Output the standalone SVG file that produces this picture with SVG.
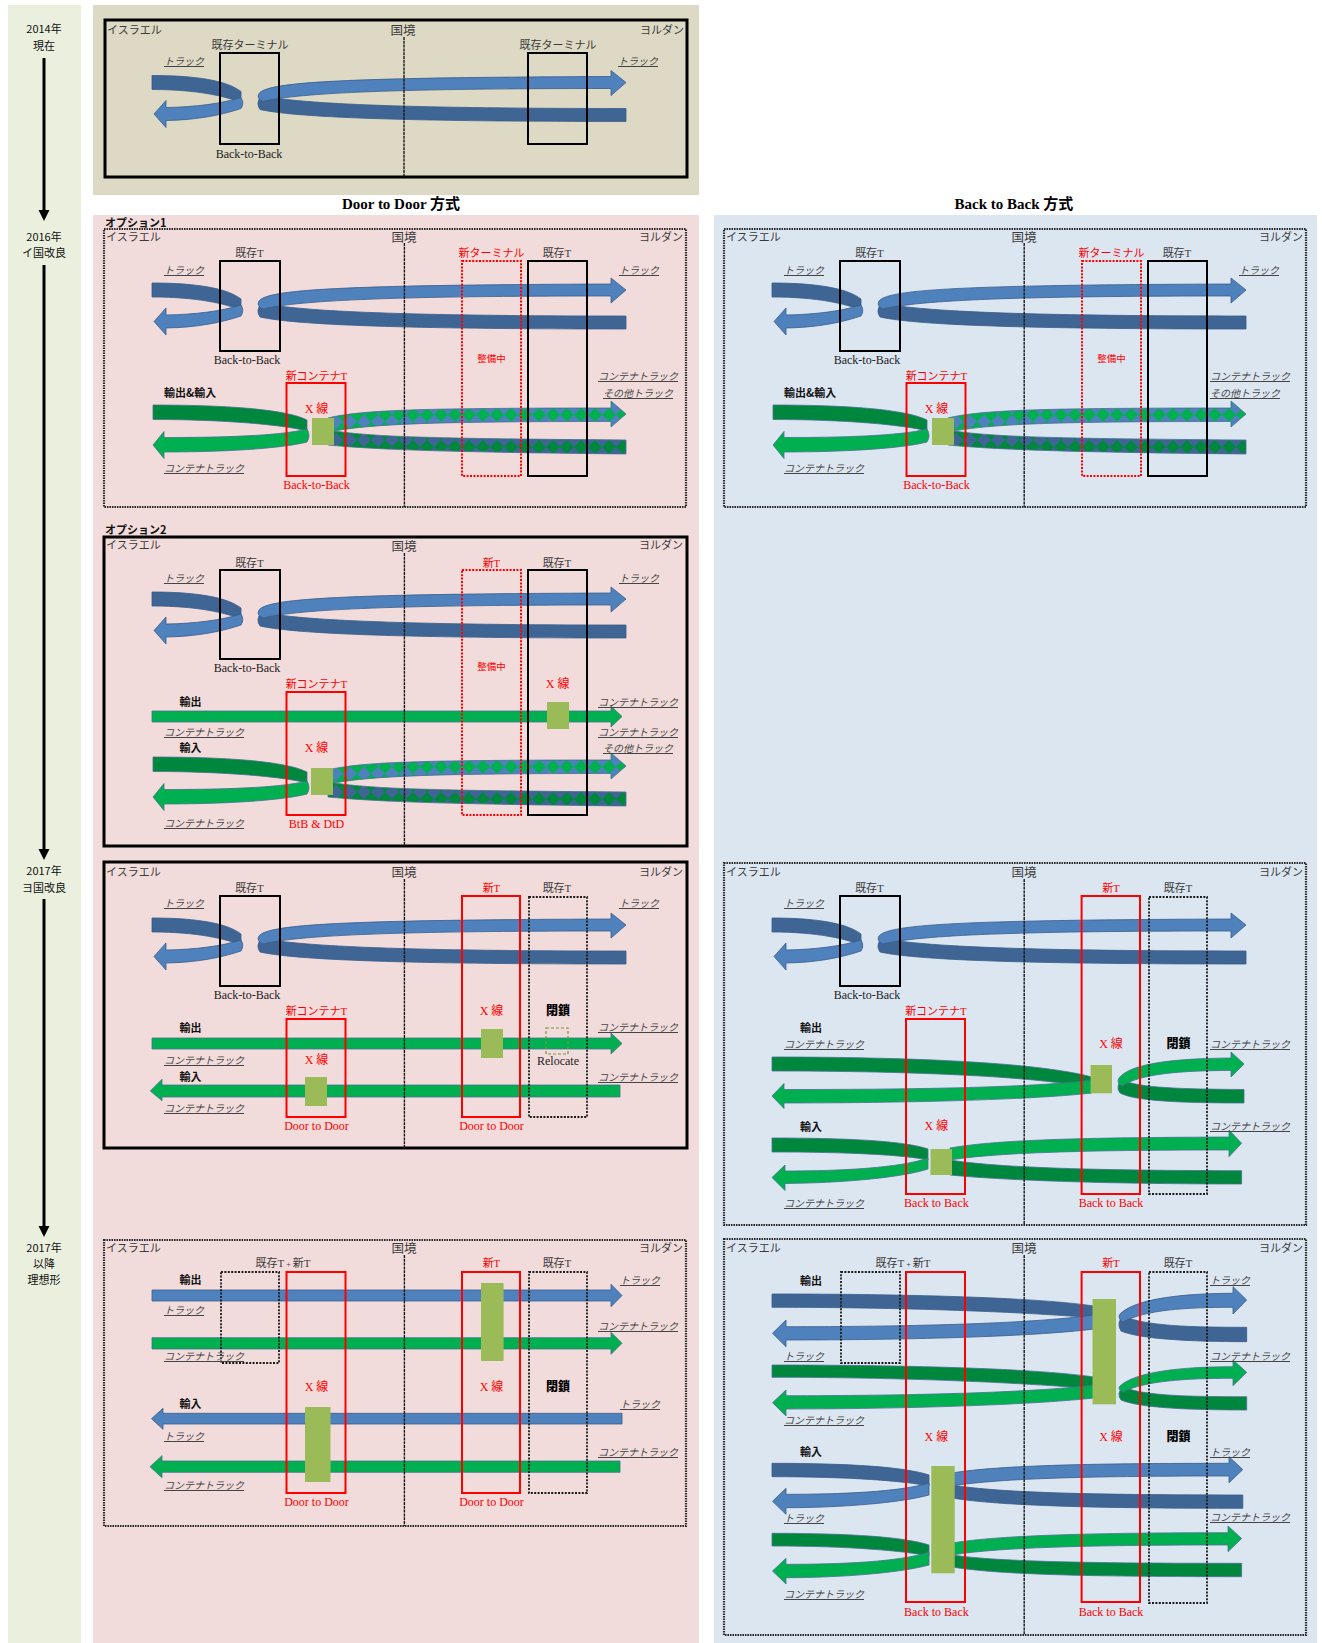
<svg xmlns="http://www.w3.org/2000/svg" width="1322" height="1643" viewBox="0 0 1322 1643">
<style>
 text{font-family:'Liberation Serif','Noto Sans CJK JP',serif;font-size:11px;fill:#3a3a3a}
 .tl{font-family:'Noto Sans CJK JP','Liberation Sans',sans-serif;font-size:11px;fill:#111;text-anchor:middle}
 .c{text-anchor:middle}
 .e{text-anchor:end}
 .kk{font-size:12.5px}
 .lab{font-size:12px;fill:#222}
 .trk{font-size:10px;font-style:italic;text-decoration:underline;fill:#444}
 .r{fill:#f00}
 .x{font-size:12px;fill:#f00}
 .sm{font-size:9.5px;fill:#f00}
 .b{font-family:'Noto Sans CJK JP','Liberation Sans',sans-serif;font-weight:bold;font-size:11px;fill:#111}
 .cl{font-family:'Noto Sans CJK JP','Liberation Sans',sans-serif;font-weight:900;font-size:12px;fill:#000}
 .hd{font-weight:bold;font-size:15px;fill:#000}
 .bx{fill:none;stroke:#000;stroke-width:2}
 .rb{fill:none;stroke:#f00;stroke-width:2}
 .rd{fill:none;stroke:#f00;stroke-width:2;stroke-dasharray:2 1.4}
 .kd{fill:none;stroke:#1a1a1a;stroke-width:1.8;stroke-dasharray:2 1.4}
 .fs{fill:none;stroke:#000;stroke-width:3}
 .fd{fill:none;stroke:#2a2a2a;stroke-width:2.2;stroke-dasharray:1.6 0.9}
 .bl{stroke:#1a1a1a;stroke-width:1.4;stroke-dasharray:3 0.8}
 .sq{fill:#9BBB59}
 .bL{fill:#4F81BD;stroke:#385D8A;stroke-width:.8}
 .bD{fill:#3F6595;stroke:#385D8A;stroke-width:.8}
 .gL{fill:#00B050;stroke:#4A6F92;stroke-width:.8}
 .gD{fill:#00873E;stroke:#4A6F92;stroke-width:.8}
 .pt{stroke:#4A6F92;stroke-width:.8}
</style>
<defs>
 <pattern id="diaL" x="0" y="1.7" width="14" height="14" patternUnits="userSpaceOnUse">
  <rect width="14" height="14" fill="#4F81BD"/><path d="M7,0 L14,7 L7,14 L0,7 Z" fill="#00B050"/>
 </pattern>
 <pattern id="diaD" x="0" y="6" width="14" height="14" patternUnits="userSpaceOnUse">
  <rect width="14" height="14" fill="#3F6595"/><path d="M7,0 L14,7 L7,14 L0,7 Z" fill="#00873E"/>
 </pattern>
 <!-- truck U-turn ribbon at an existing back-to-back terminal -->
 <g id="topLoop">
  <path class="bD" d="M152,283 C200,283 228,289 241,299 L241,310 C226,304 198,297 152,297 Z"/>
  <path class="bL" d="M241,305 Q244.5,310.5 241,316 C220,323 196,327.5 166,328 L166,335 L154,321.5 L166,308 L166,315 C196,314.5 222,311 241,305 Z"/>
  <path class="bD" d="M262,303 C300,312 420,316 626,316 L626,329 C430,329 300,326 260,317 Q255,310 262,303 Z"/>
  <path class="bL" d="M259,301 C268,290 330,285 611,284 L611,278 L626,290 L611,303 L611,296 C400,296 300,300 263,309 Q256,306 259,301 Z"/>
 </g>
 <!-- container U-turn with mixed container / other trucks on the far side -->
 <g id="mixLoop">
  <path class="gD" d="M153,405 C225,405 285,409 307,420 L307,431 C285,425 225,419.5 153,419.5 Z"/>
  <path class="gL" d="M307,429 Q311,435.5 307,442 C280,449 220,452 164,452 L164,458.5 L153,445 L164,431.5 L164,437.5 C220,437.5 280,436 307,429 Z"/>
  <path class="pt" fill="url(#diaD)" d="M328,430 C370,437 430,438.5 626,440 L626,454 C430,452 370,449 328,445 Z"/>
  <path class="pt" fill="url(#diaL)" d="M328,418 C360,410 420,408 611,408 L611,401 L626,414 L611,427 L611,421.5 C430,421.5 370,424 328,432 Z"/>
 </g>
</defs>

<!-- backgrounds -->
<rect x="8" y="5" width="73" height="1638" fill="#EBF0DE"/>
<rect x="93" y="5" width="606" height="190" fill="#DDD9C4"/>
<rect x="93" y="215" width="606" height="1428" fill="#F2DCDB"/>
<rect x="714" y="215" width="603" height="1428" fill="#DCE6F1"/>

<g id="timeline">
 <text class="tl" x="44" y="33">2014年</text>
 <text class="tl" x="44" y="50">現在</text>
 <line x1="44" y1="58" x2="44" y2="212" stroke="#000" stroke-width="3"/>
 <path d="M38.5,210 L49.5,210 L44,221 Z"/>
 <text class="tl" x="44" y="241">2016年</text>
 <text class="tl" x="44" y="257">イ国改良</text>
 <line x1="44" y1="265" x2="44" y2="851" stroke="#000" stroke-width="3"/>
 <path d="M38.5,849 L49.5,849 L44,860 Z"/>
 <text class="tl" x="44" y="875">2017年</text>
 <text class="tl" x="44" y="892">ヨ国改良</text>
 <line x1="44" y1="899" x2="44" y2="1228" stroke="#000" stroke-width="3"/>
 <path d="M38.5,1226 L49.5,1226 L44,1237 Z"/>
 <text class="tl" x="44" y="1252">2017年</text>
 <text class="tl" x="44" y="1268">以降</text>
 <text class="tl" x="44" y="1284">理想形</text>
</g>

<text class="hd c" x="401" y="209">Door to Door 方式</text>
<text class="hd c" x="1014" y="209">Back to Back 方式</text>

<!-- 2014: present state -->
<g id="panel-2014">
 <rect class="fs" x="105" y="20" width="582" height="157"/>
 <g id="p0-flows"><use href="#topLoop" transform="translate(0,-207.5)"/></g>
 <g id="p0-term-il"><rect class="bx" x="220" y="53" width="59" height="91"/><text class="c" x="250" y="49">既存ターミナル</text><text class="c lab" x="249" y="158">Back-to-Back</text></g>
 <g id="p0-term-jo"><rect class="bx" x="528" y="53" width="59" height="91"/><text class="c" x="558" y="49">既存ターミナル</text></g>
 <line class="bl" x1="404" y1="37" x2="404" y2="177"/>
 <text x="107" y="34">イスラエル</text>
 <text class="c kk" x="403" y="35">国境</text>
 <text class="e" x="684" y="34">ヨルダン</text>
 <text class="trk" x="164" y="65">トラック</text>
 <text class="trk" x="618" y="65">トラック</text>
</g>

<!-- 2016 door to door, option 1 -->
<g id="panel-dtd-opt1">
 <text class="b" x="105" y="227">オプション1</text>
 <rect class="fd" x="104" y="229" width="582" height="278"/>
 <g id="p1-flows"><use href="#topLoop"/><use href="#mixLoop"/></g>
 <g id="p1-term-il"><rect class="bx" x="220" y="261" width="60" height="90"/><text class="c" x="249.5" y="257">既存T</text><text class="c lab" x="247" y="364">Back-to-Back</text></g>
 <g id="p1-term-new"><rect class="rd" x="462" y="261" width="59" height="215"/><text class="c r" x="491.5" y="257">新ターミナル</text><text class="c sm" x="491.5" y="362">整備中</text></g>
 <g id="p1-term-jo"><rect class="bx" x="528" y="261" width="59" height="215"/><text class="c" x="557" y="257">既存T</text></g>
 <g id="p1-term-ct"><rect class="rb" x="286.5" y="383" width="59" height="93"/><text class="c r" x="316.5" y="380">新コンテナT</text><text class="c x" x="316.5" y="413">X 線</text><text class="c x" x="316.5" y="489">Back-to-Back</text><rect class="sq" x="312" y="418" width="22" height="27"/></g>
 <line class="bl" x1="404.4" y1="243" x2="404.4" y2="507"/>
 <text x="106" y="241">イスラエル</text>
 <text class="c kk" x="404" y="242">国境</text>
 <text class="e" x="683" y="241">ヨルダン</text>
 <text class="trk" x="164" y="274">トラック</text>
 <text class="trk" x="619" y="274">トラック</text>
 <text class="b" x="164" y="397">輸出&amp;輸入</text>
 <text class="trk" x="164" y="472">コンテナトラック</text>
 <text class="trk" x="598" y="380">コンテナトラック</text>
 <text class="trk" x="603" y="397">その他トラック</text>
</g>

<!-- 2016 door to door, option 2 -->
<g id="panel-dtd-opt2">
 <text class="b" x="105" y="534">オプション2</text>
 <rect class="fs" x="104" y="537" width="583" height="309"/>
 <g id="p2-flows">
  <use href="#topLoop" transform="translate(0,309)"/>
  <use href="#mixLoop" transform="translate(0,352)"/>
  <path class="gL" d="M152,711 H611 V706 L622,716.5 L611,727 V722 H152 Z"/>
 </g>
 <g id="p2-term-il"><rect class="bx" x="220" y="570" width="60" height="89"/><text class="c" x="249.5" y="567">既存T</text><text class="c lab" x="247" y="672">Back-to-Back</text></g>
 <g id="p2-term-new"><rect class="rd" x="462" y="570" width="59" height="245"/><text class="c r" x="491.5" y="567">新T</text><text class="c sm" x="491.5" y="670">整備中</text></g>
 <g id="p2-term-jo"><rect class="bx" x="528" y="570" width="59" height="245"/><text class="c" x="557" y="567">既存T</text><text class="c x" x="557.7" y="688">X 線</text><rect class="sq" x="547" y="702" width="22" height="27"/></g>
 <g id="p2-term-ct"><rect class="rb" x="286.5" y="692" width="59" height="123"/><text class="c r" x="316.5" y="688">新コンテナT</text><text class="c x" x="316.5" y="752">X 線</text><text class="c x" x="316.5" y="828">BtB &amp; DtD</text><rect class="sq" x="311" y="768" width="22" height="27"/></g>
 <line class="bl" x1="404.4" y1="553" x2="404.4" y2="846"/>
 <text x="106" y="549">イスラエル</text>
 <text class="c kk" x="404" y="551">国境</text>
 <text class="e" x="683" y="549">ヨルダン</text>
 <text class="trk" x="164" y="582">トラック</text>
 <text class="trk" x="619" y="582">トラック</text>
 <text class="b" x="179.5" y="706">輸出</text>
 <text class="trk" x="164" y="736">コンテナトラック</text>
 <text class="b" x="179.5" y="752">輸入</text>
 <text class="trk" x="164" y="827">コンテナトラック</text>
 <text class="trk" x="598" y="706">コンテナトラック</text>
 <text class="trk" x="598" y="736">コンテナトラック</text>
 <text class="trk" x="603" y="752">その他トラック</text>
</g>

<!-- 2017 door to door -->
<g id="panel-dtd-2017">
 <rect class="fs" x="104" y="862" width="583" height="286"/>
 <g id="p3-flows">
  <use href="#topLoop" transform="translate(0,635)"/>
  <path class="gL" d="M152,1038 H611 V1033 L622,1043.5 L611,1054 V1049 H152 Z"/>
  <path class="gL" d="M620,1085 H162 V1079.3 L150.3,1091 L162,1100.7 V1097 H620 Z"/>
 </g>
 <g id="p3-term-il"><rect class="bx" x="220" y="896" width="60" height="90"/><text class="c" x="249.5" y="892">既存T</text><text class="c lab" x="247" y="999">Back-to-Back</text></g>
 <g id="p3-term-new"><rect class="rb" x="462" y="896" width="58" height="221"/><text class="c r" x="491.5" y="892">新T</text><text class="c x" x="491.5" y="1015">X 線</text><text class="c x" x="491.5" y="1130">Door to Door</text><rect class="sq" x="481" y="1029" width="22" height="29"/></g>
 <g id="p3-term-jo"><rect class="kd" x="529" y="897" width="58" height="220"/><text class="c" x="557" y="892">既存T</text><text class="c cl" x="558" y="1015">閉鎖</text><rect x="546" y="1028" width="22" height="26" fill="none" stroke="#77933C" stroke-width="1.2" stroke-dasharray="3 2"/><text class="c lab" x="558" y="1065">Relocate</text></g>
 <g id="p3-term-ct"><rect class="rb" x="286.5" y="1019" width="59" height="98"/><text class="c r" x="316.5" y="1015">新コンテナT</text><text class="c x" x="316.5" y="1064">X 線</text><text class="c x" x="316.5" y="1130">Door to Door</text><rect class="sq" x="305" y="1077" width="22" height="29"/></g>
 <line class="bl" x1="404.4" y1="879" x2="404.4" y2="1148"/>
 <text x="106" y="876">イスラエル</text>
 <text class="c kk" x="404" y="877">国境</text>
 <text class="e" x="683" y="876">ヨルダン</text>
 <text class="trk" x="164" y="907">トラック</text>
 <text class="trk" x="619" y="907">トラック</text>
 <text class="b" x="179.5" y="1032">輸出</text>
 <text class="trk" x="164" y="1064">コンテナトラック</text>
 <text class="b" x="179.5" y="1081">輸入</text>
 <text class="trk" x="164" y="1112">コンテナトラック</text>
 <text class="trk" x="598" y="1031">コンテナトラック</text>
 <text class="trk" x="598" y="1081">コンテナトラック</text>
</g>

<!-- after 2017, door to door -->
<g id="panel-dtd-ideal">
 <rect class="fd" x="104" y="1240" width="582" height="286"/>
 <g id="p4-flows">
  <path class="bL" d="M152,1290 H611 V1284.3 L622,1295.5 L611,1306.7 V1301 H152 Z"/>
  <path class="gL" d="M152,1337.7 H611 V1332.3 L622,1343.3 L611,1354.3 V1349 H152 Z"/>
  <path class="bL" d="M622,1413.3 H163 V1408.3 L151.5,1418.7 L163,1429.3 V1424 H622 Z"/>
  <path class="gL" d="M620,1461 H162 V1455.7 L150,1466.7 L162,1477.7 V1472.3 H620 Z"/>
 </g>
 <g id="p4-term-il"><rect class="kd" x="221" y="1272" width="58" height="91"/><text class="c" x="283" y="1267">既存T<tspan font-size="8"> + </tspan>新T</text></g>
 <g id="p4-term-ct"><rect class="rb" x="286.5" y="1272" width="59" height="221"/><text class="c x" x="316.5" y="1391">X 線</text><text class="c x" x="316.5" y="1506">Door to Door</text><rect class="sq" x="305" y="1407" width="25.5" height="75"/></g>
 <g id="p4-term-new"><rect class="rb" x="462" y="1272" width="58" height="221"/><text class="c r" x="491.5" y="1267">新T</text><text class="c x" x="491.5" y="1391">X 線</text><text class="c x" x="491.5" y="1506">Door to Door</text><rect class="sq" x="481" y="1283" width="22.6" height="78"/></g>
 <g id="p4-term-jo"><rect class="kd" x="529" y="1272" width="58" height="221"/><text class="c" x="557" y="1267">既存T</text><text class="c cl" x="558" y="1391">閉鎖</text></g>
 <line class="bl" x1="404.4" y1="1255" x2="404.4" y2="1526"/>
 <text x="106" y="1252">イスラエル</text>
 <text class="c kk" x="404" y="1253">国境</text>
 <text class="e" x="683" y="1252">ヨルダン</text>
 <text class="b" x="179.5" y="1284">輸出</text>
 <text class="trk" x="164" y="1314">トラック</text>
 <text class="trk" x="164" y="1360">コンテナトラック</text>
 <text class="b" x="179.5" y="1408">輸入</text>
 <text class="trk" x="164" y="1440">トラック</text>
 <text class="trk" x="164" y="1489">コンテナトラック</text>
 <text class="trk" x="620" y="1284">トラック</text>
 <text class="trk" x="598" y="1330">コンテナトラック</text>
 <text class="trk" x="620" y="1408">トラック</text>
 <text class="trk" x="598" y="1456">コンテナトラック</text>
</g>

<!-- 2016 back to back -->
<g id="panel-btb-2016">
 <rect class="fd" x="724" y="229" width="582" height="278"/>
 <g id="q1-flows"><use href="#topLoop" transform="translate(620,0)"/><use href="#mixLoop" transform="translate(620,0)"/></g>
 <g id="q1-term-il"><rect class="bx" x="840" y="261" width="60" height="90"/><text class="c" x="869.5" y="257">既存T</text><text class="c lab" x="867" y="364">Back-to-Back</text></g>
 <g id="q1-term-new"><rect class="rd" x="1082" y="261" width="59" height="215"/><text class="c r" x="1111.5" y="257">新ターミナル</text><text class="c sm" x="1111.5" y="362">整備中</text></g>
 <g id="q1-term-jo"><rect class="bx" x="1148" y="261" width="59" height="215"/><text class="c" x="1177" y="257">既存T</text></g>
 <g id="q1-term-ct"><rect class="rb" x="906.5" y="383" width="59" height="93"/><text class="c r" x="936.5" y="380">新コンテナT</text><text class="c x" x="936.5" y="413">X 線</text><text class="c x" x="936.5" y="489">Back-to-Back</text><rect class="sq" x="932" y="418" width="22" height="27"/></g>
 <line class="bl" x1="1024.2" y1="243" x2="1024.2" y2="507"/>
 <text x="726" y="241">イスラエル</text>
 <text class="c kk" x="1024" y="242">国境</text>
 <text class="e" x="1303" y="241">ヨルダン</text>
 <text class="trk" x="784" y="274">トラック</text>
 <text class="trk" x="1239" y="274">トラック</text>
 <text class="b" x="784" y="397">輸出&amp;輸入</text>
 <text class="trk" x="784" y="472">コンテナトラック</text>
 <text class="trk" x="1210" y="380">コンテナトラック</text>
 <text class="trk" x="1210" y="397">その他トラック</text>
</g>

<!-- 2017 back to back -->
<g id="panel-btb-2017">
 <rect class="fd" x="724" y="863" width="582" height="362"/>
 <g id="q3-flows">
  <use href="#topLoop" transform="translate(620,635)"/>
  <path class="gD" d="M772,1057 C920,1057 1040,1063 1092,1077 L1092,1088 C1040,1077 920,1071 772,1071 Z"/>
  <path class="gL" d="M1092,1080 L1092,1093 C1030,1100 900,1103 784,1103 L784,1108.5 L772,1096 L784,1083.5 L784,1089.5 C900,1089.5 1030,1088 1092,1080 Z"/>
  <path class="gD" d="M1122,1080 C1140,1088 1180,1089 1244,1089.5 L1244,1103 C1180,1103 1135,1101 1120,1093 Q1115,1086 1122,1080 Z"/>
  <path class="gL" d="M1119,1078 C1130,1064 1170,1058.5 1231,1058 L1231,1052 L1244,1064 L1231,1077 L1231,1070.5 C1180,1070.5 1140,1074 1122,1086 Q1116,1083 1119,1078 Z"/>
  <path class="gD" d="M772,1138 C850,1138 905,1141 928,1149 L928,1160 C905,1155 850,1152 772,1152 Z"/>
  <path class="gL" d="M928,1158 L928,1169 C900,1178 840,1183 785,1183.5 L785,1190.5 L772,1177.5 L785,1165 L785,1171 C840,1171 900,1168 928,1158 Z"/>
  <path class="gD" d="M950,1160 C1000,1168 1100,1170.5 1241.6,1170.7 L1241.6,1184 C1100,1184 1000,1180 950,1175 Z"/>
  <path class="gL" d="M950,1148 C1000,1139 1100,1137.5 1229,1137 L1229,1130 L1241.6,1143.3 L1229,1156.7 L1229,1150 C1100,1150 1000,1152 950,1160 Z"/>
 </g>
 <g id="q3-term-il"><rect class="bx" x="840" y="896" width="60" height="90"/><text class="c" x="869.5" y="892">既存T</text><text class="c lab" x="867" y="999">Back-to-Back</text></g>
 <g id="q3-term-ct"><rect class="rb" x="906" y="1019" width="59" height="175"/><text class="c r" x="936" y="1015">新コンテナT</text><text class="c x" x="936.4" y="1130">X 線</text><text class="c x" x="936.4" y="1207">Back to Back</text><rect class="sq" x="930.5" y="1149" width="21.5" height="26"/></g>
 <g id="q3-term-new"><rect class="rb" x="1081.6" y="896" width="58.4" height="298"/><text class="c r" x="1111" y="892">新T</text><text class="c x" x="1111" y="1048">X 線</text><text class="c x" x="1111" y="1207">Back to Back</text><rect class="sq" x="1090.6" y="1065" width="21.4" height="28.3"/></g>
 <g id="q3-term-jo"><rect class="kd" x="1149" y="897" width="58" height="297"/><text class="c" x="1178" y="892">既存T</text><text class="c cl" x="1178.4" y="1048">閉鎖</text></g>
 <line class="bl" x1="1024.2" y1="879" x2="1024.2" y2="1225"/>
 <text x="726" y="876">イスラエル</text>
 <text class="c kk" x="1024" y="877">国境</text>
 <text class="e" x="1303" y="876">ヨルダン</text>
 <text class="trk" x="784" y="907">トラック</text>
 <text class="b" x="800" y="1032">輸出</text>
 <text class="trk" x="784" y="1048">コンテナトラック</text>
 <text class="trk" x="1210" y="1048">コンテナトラック</text>
 <text class="b" x="800" y="1131">輸入</text>
 <text class="trk" x="1210" y="1130">コンテナトラック</text>
 <text class="trk" x="784" y="1207">コンテナトラック</text>
</g>

<!-- after 2017, back to back -->
<g id="panel-btb-ideal">
 <rect class="fd" x="724" y="1239" width="582" height="396"/>
 <g id="q4-flows">
  <path class="bD" d="M772,1294 C920,1294 1040,1298 1094,1306 L1094,1318 C1040,1313 920,1307.3 772,1307.3 Z"/>
  <path class="bL" d="M1094,1315 L1094,1329 C1030,1337 900,1340 786,1340 L786,1346.7 L772.5,1333.3 L786,1320 L786,1326.7 C900,1326.7 1030,1324 1094,1315 Z"/>
  <path class="bD" d="M1123,1316 C1145,1326 1190,1327.3 1246.7,1327.3 L1246.7,1341.7 C1190,1341.7 1140,1339 1121,1331 Q1116,1323 1123,1316 Z"/>
  <path class="bL" d="M1120,1314 C1135,1299 1180,1293.5 1233,1293.3 L1233,1286.7 L1246.7,1300 L1233,1314 L1233,1307.3 C1185,1307.3 1145,1310 1123,1322 Q1117,1318 1120,1314 Z"/>
  <path class="gD" d="M772,1365 C920,1365 1040,1369 1094,1377 L1094,1389 C1040,1384 920,1377.3 772,1377.3 Z"/>
  <path class="gL" d="M1094,1385 L1094,1398 C1030,1405 900,1409 786,1409 L786,1416 L772.5,1402.7 L786,1390 L786,1395.7 C900,1395.7 1030,1393 1094,1385 Z"/>
  <path class="gD" d="M1123,1387 C1145,1396 1190,1396.7 1246.7,1396.7 L1246.7,1410 C1190,1410 1140,1408 1121,1400 Q1116,1393 1123,1387 Z"/>
  <path class="gL" d="M1120,1386 C1135,1372 1180,1366.7 1233,1366.7 L1233,1360 L1246.7,1372.3 L1233,1385.7 L1233,1378.3 C1185,1378.3 1145,1381 1123,1392 Q1117,1389 1120,1386 Z"/>
  <path class="bD" d="M772,1463.3 C850,1463.3 905,1467 929,1475 L929,1486 C905,1481 850,1476.7 772,1476.7 Z"/>
  <path class="bL" d="M929,1483 L929,1495 C900,1503 840,1507.7 786,1507.7 L786,1514.3 L772.5,1501.3 L786,1488.3 L786,1494.3 C840,1494.3 900,1492 929,1483 Z"/>
  <path class="bD" d="M952,1485 C1000,1493 1100,1495 1242.8,1495 L1242.8,1508.3 C1100,1508.3 1000,1506 952,1498 Z"/>
  <path class="bL" d="M952,1473 C1000,1465 1100,1463.3 1229,1463.3 L1229,1456.7 L1242.8,1469.6 L1229,1482.7 L1229,1476 C1100,1476 1000,1478 952,1486 Z"/>
  <path class="gD" d="M772,1533.3 C850,1533.3 905,1537 929,1545 L929,1556 C905,1551 850,1546 772,1546 Z"/>
  <path class="gL" d="M929,1552 L929,1565 C900,1573 840,1577.7 786,1577.7 L786,1584 L772.5,1571 L786,1558.3 L786,1564.3 C840,1564.3 900,1562 929,1552 Z"/>
  <path class="gD" d="M952,1555 C1000,1562 1100,1563.3 1241.6,1563.3 L1241.6,1576.7 C1100,1576.7 1000,1575 952,1567 Z"/>
  <path class="gL" d="M952,1543 C1000,1535 1100,1532.7 1228,1532.7 L1228,1526 L1241.6,1538.5 L1228,1551.7 L1228,1545 C1100,1545 1000,1547 952,1555 Z"/>
 </g>
 <g id="q4-term-il"><rect class="kd" x="841" y="1272" width="59" height="91"/><text class="c" x="903" y="1267">既存T<tspan font-size="8"> + </tspan>新T</text></g>
 <g id="q4-term-ct"><rect class="rb" x="906" y="1272" width="59" height="330"/><text class="c x" x="936.4" y="1441">X 線</text><text class="c x" x="936.4" y="1616">Back to Back</text><rect class="sq" x="931.3" y="1466" width="23.4" height="107.3"/></g>
 <g id="q4-term-new"><rect class="rb" x="1081.6" y="1272" width="58.4" height="330"/><text class="c r" x="1111" y="1267">新T</text><text class="c x" x="1111" y="1441">X 線</text><text class="c x" x="1111" y="1616">Back to Back</text><rect class="sq" x="1092.5" y="1299" width="23.5" height="105.3"/></g>
 <g id="q4-term-jo"><rect class="kd" x="1149" y="1272" width="58" height="331"/><text class="c" x="1178" y="1267">既存T</text><text class="c cl" x="1178.4" y="1441">閉鎖</text></g>
 <line class="bl" x1="1024.2" y1="1255" x2="1024.2" y2="1635"/>
 <text x="726" y="1252">イスラエル</text>
 <text class="c kk" x="1024" y="1253">国境</text>
 <text class="e" x="1303" y="1252">ヨルダン</text>
 <text class="b" x="800" y="1285">輸出</text>
 <text class="trk" x="1210" y="1284">トラック</text>
 <text class="trk" x="784" y="1360">トラック</text>
 <text class="trk" x="1210" y="1360">コンテナトラック</text>
 <text class="trk" x="784" y="1424">コンテナトラック</text>
 <text class="b" x="800" y="1456">輸入</text>
 <text class="trk" x="1210" y="1456">トラック</text>
 <text class="trk" x="784" y="1522">トラック</text>
 <text class="trk" x="1210" y="1521">コンテナトラック</text>
 <text class="trk" x="784" y="1598">コンテナトラック</text>
</g>
</svg>
